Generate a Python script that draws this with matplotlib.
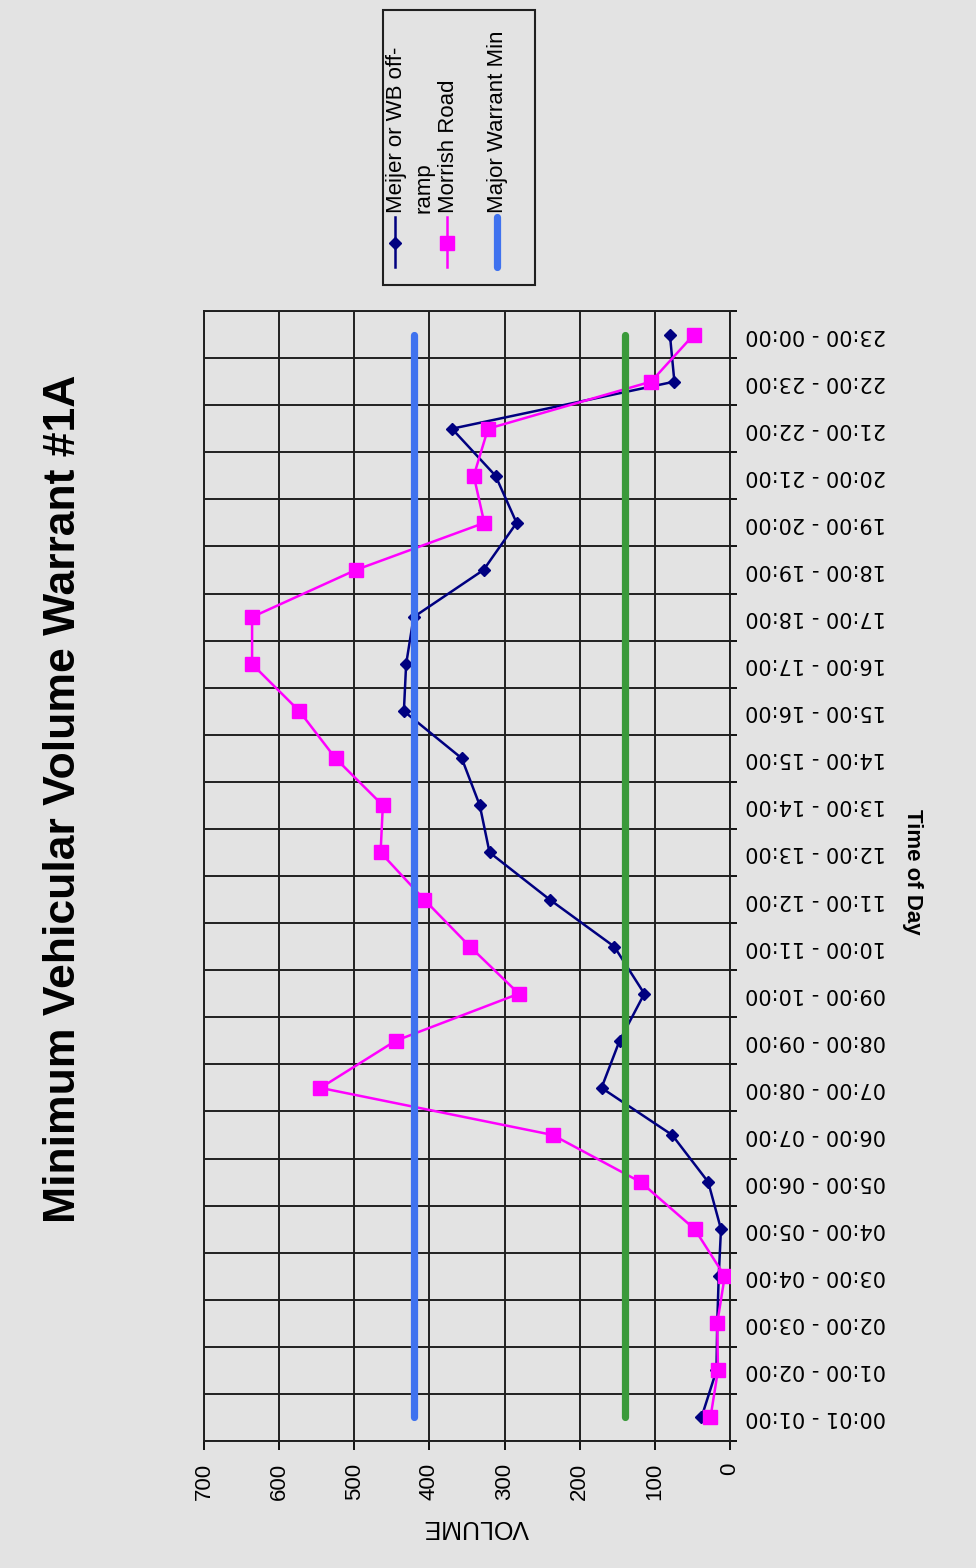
import matplotlib.pyplot as plt
import numpy as np
from matplotlib.lines import Line2D
from matplotlib.patches import Rectangle

# hourly volumes
hours = ["00:01 - 01:00", "01:00 - 02:00", "02:00 - 03:00", "03:00 - 04:00",
         "04:00 - 05:00", "05:00 - 06:00", "06:00 - 07:00", "07:00 - 08:00",
         "08:00 - 09:00", "09:00 - 10:00", "10:00 - 11:00", "11:00 - 12:00",
         "12:00 - 13:00", "13:00 - 14:00", "14:00 - 15:00", "15:00 - 16:00",
         "16:00 - 17:00", "17:00 - 18:00", "18:00 - 19:00", "19:00 - 20:00",
         "20:00 - 21:00", "21:00 - 22:00", "22:00 - 23:00", "23:00 - 00:00"]
meijer = [38, 18, 17, 15, 12, 29, 77, 171, 147, 114, 154, 240,
          320, 333, 357, 434, 431, 421, 328, 284, 312, 370, 74, 80]
morrish = [26, 16, 17, 7, 47, 119, 236, 545, 445, 281, 346, 407,
           465, 462, 525, 573, 636, 636, 498, 327, 341, 322, 105, 48]
major_min = 420
minor_min = 140
volume_ticks = [0, 100, 200, 300, 400, 500, 600, 700]

BG = "#e3e3e3"
NAVY = "#000080"
MAGENTA = "#ff00ff"
BLUE = "#3f72ef"
GREEN = "#3a9a3a"
NARROW = ["Liberation Sans Narrow", "Liberation Sans", "DejaVu Sans"]
ARIAL = ["Liberation Sans", "DejaVu Sans"]


def draw_chart():
    fig = plt.figure(figsize=(9.76, 15.68), dpi=100, facecolor=BG)
    # chart is printed sideways: time runs up the page, volume right to left
    ax = fig.add_axes([204 / 976, 1 - 1441 / 1568, 526 / 976, 1130 / 1568])
    ax.set_facecolor(BG)

    pos = np.arange(len(hours))
    ax.plot(meijer, pos, color=NAVY, lw=1.8, marker="D", ms=6.5, zorder=3)
    ax.plot(morrish, pos, color=MAGENTA, lw=1.8, marker="s", ms=9.5, zorder=3)
    ax.plot(np.full(len(hours), major_min), pos, color=BLUE, lw=5.2,
            solid_capstyle="round", zorder=4)
    ax.plot(np.full(len(hours), minor_min), pos, color=GREEN, lw=5.2,
            solid_capstyle="round", zorder=4)

    ax.set_xlim(700, 0)
    ax.set_ylim(-0.5, len(hours) - 0.5)

    ax.set_xticks(volume_ticks)
    ax.set_xticklabels([str(v) for v in volume_ticks], rotation=90,
                       fontsize=16, family=ARIAL)
    ax.tick_params(axis="x", direction="out", length=6.5, width=1.3, pad=9)

    ax.yaxis.tick_right()
    ax.set_yticks(pos)
    ax.set_yticklabels(hours, rotation=180, fontsize=15, va="center",
                       family=["DejaVu Sans"])
    ax.set_yticks(np.arange(len(hours) + 1) - 0.5, minor=True)
    ax.tick_params(axis="y", which="major", length=0, pad=10.8)
    ax.tick_params(axis="y", which="minor", direction="out", length=5,
                   width=1.3, right=True, left=False)

    ax.grid(axis="x", which="major", color="#202020", lw=1.4)
    ax.grid(axis="y", which="minor", color="#202020", lw=1.4)
    ax.set_axisbelow(True)
    for sp in ax.spines.values():
        sp.set_color("#202020")
        sp.set_linewidth(1.4)

    fig.text(64 / 976, 1 - 799 / 1568, "Minimum Vehicular Volume Warrant #1A",
             rotation=90, ha="center", va="center", fontsize=32,
             fontweight="bold", family=NARROW)
    fig.text(476 / 976, 1 - 1527 / 1568, "VOLUME", rotation=180,
             ha="center", va="center", fontsize=18, family=ARIAL)
    fig.text(912 / 976, 1 - 872 / 1568, "Time of Day", rotation=270,
             ha="center", va="center", fontsize=16, fontweight="bold",
             family=NARROW)

    # legend box, drawn by hand because it is rotated too
    fig.patches.append(Rectangle((383 / 976, 1 - 285 / 1568), 152 / 976,
                                 275 / 1568, transform=fig.transFigure,
                                 facecolor=BG, edgecolor="#202020", lw=1.5))
    y0, y1, ym = 1 - 217 / 1568, 1 - 267 / 1568, 1 - 243 / 1568
    fig.lines.append(Line2D([395 / 976] * 2, [y0, y1], color=NAVY, lw=1.8,
                            transform=fig.transFigure))
    fig.lines.append(Line2D([395 / 976], [ym], color=NAVY, marker="D", ms=6.5,
                            transform=fig.transFigure))
    fig.lines.append(Line2D([447 / 976] * 2, [y0, y1], color=MAGENTA, lw=1.8,
                            transform=fig.transFigure))
    fig.lines.append(Line2D([447 / 976], [ym], color=MAGENTA, marker="s",
                            ms=9.5, transform=fig.transFigure))
    fig.lines.append(Line2D([497 / 976] * 2, [y0, y1], color=BLUE, lw=5.2,
                            solid_capstyle="round", transform=fig.transFigure))

    ty = 1 - 213 / 1568
    fig.text(386 / 976, ty, "Meijer or WB off-\nramp", rotation=90,
             rotation_mode="anchor", ha="left", va="top", fontsize=16,
             linespacing=1.42, family=ARIAL)
    fig.text(448 / 976, ty, "Morrish Road", rotation=90,
             rotation_mode="anchor", ha="left", va="center", fontsize=16,
             family=ARIAL)
    fig.text(498 / 976, ty, "Major Warrant Min", rotation=90,
             rotation_mode="anchor", ha="left", va="center", fontsize=16,
             family=ARIAL)

    fig.savefig("out.png", dpi=100, facecolor=BG)
    plt.close(fig)


def main():
    draw_chart()


if __name__ == "__main__":
    main()
